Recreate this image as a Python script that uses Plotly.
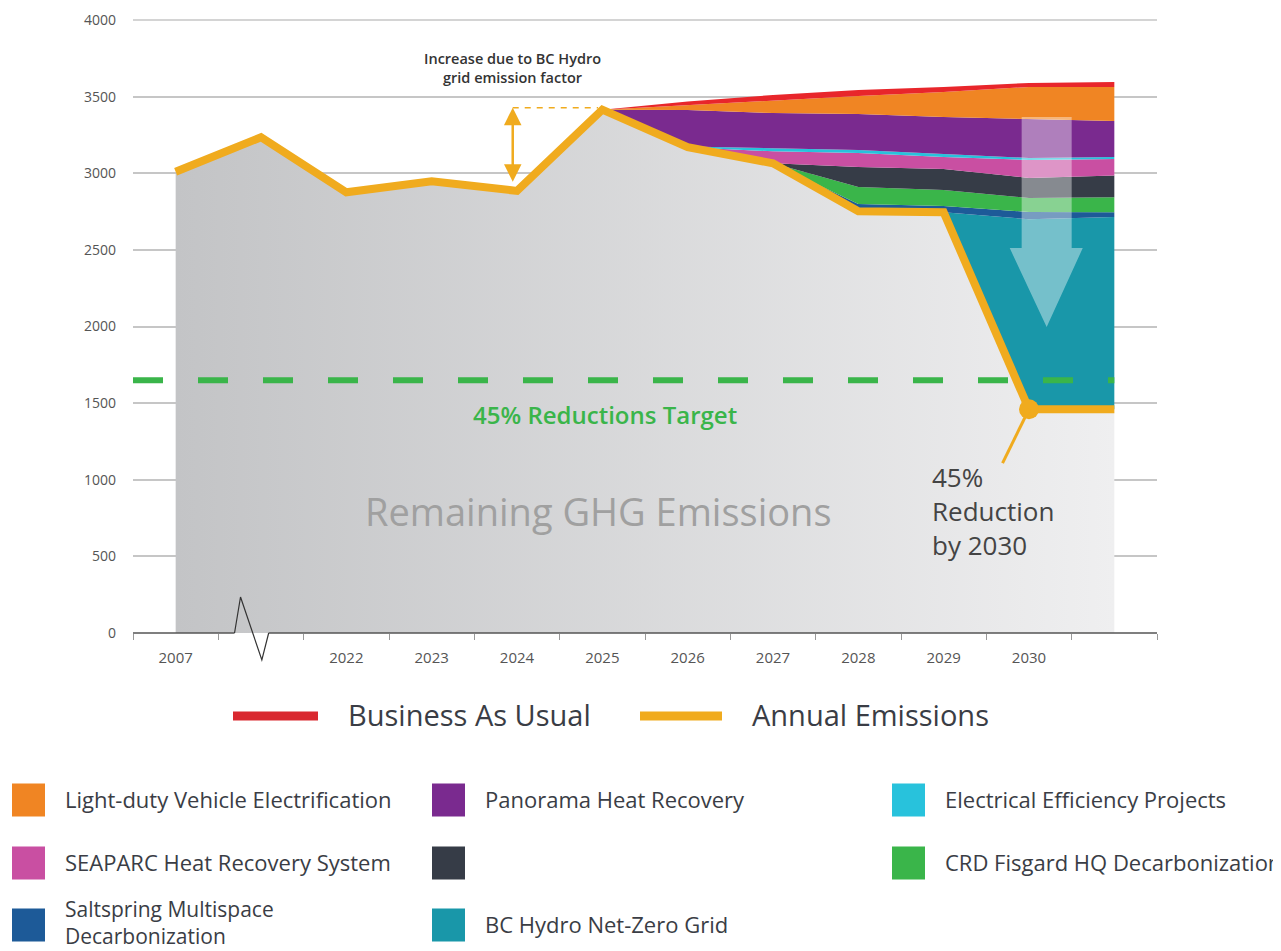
import plotly.graph_objects as go

# ---------------- data ----------------
categories = ["2007", "", "2022", "2023", "2024", "2025", "2026", "2027", "2028", "2029", "2030", ""]
annual_emissions = [3010, 3235, 2876, 2948, 2885, 3415, 3170, 3065, 2752, 2745, 1460, 1460]
target_value = 1650

# reductions stacked above the annual emissions, from 2025 onward (2025 .. end)
proj_start = 5
bc_hydro_grid = [0, 0, 0, 0, 0, 1240, 1255]
saltspring = [0, 0, 0, 47, 41, 47, 30]
crd_fisgard = [0, 0, 0, 111, 105, 91, 98]
unnamed_project = [0, 0, 0, 131, 137, 131, 143]
seaparc = [0, 0, 78, 91, 78, 118, 107]
electrical_eff = [0, 5, 20, 20, 20, 13, 13]
panorama = [0, 238, 230, 235, 241, 254, 235]
ldv_electrification = [0, 32, 85, 117, 163, 209, 222]
business_as_usual = [0, 23, 33, 39, 33, 26, 32]

y_ticks = [0, 500, 1000, 1500, 2000, 2500, 3000, 3500, 4000]

# ---------------- styles ----------------
YELLOW = "#f0ab1e"
RED = "#e8262b"
ORANGE = "#f08523"
PURPLE = "#7a2a8f"
CYAN = "#28c2dc"
MAGENTA = "#c94fa2"
DARK = "#363c47"
GREEN = "#3ab54a"
BLUE = "#1d5a98"
TEAL = "#1997a9"
TEXT = "#3a3d45"
GRID = "#c6c6c6"
FONT = "Open Sans"

layers = [
    ("BC Hydro Net-Zero Grid", bc_hydro_grid, TEAL),
    ("Saltspring Multispace Decarbonization", saltspring, BLUE),
    ("CRD Fisgard HQ Decarbonization", crd_fisgard, GREEN),
    (" ", unnamed_project, DARK),
    ("SEAPARC Heat Recovery System", seaparc, MAGENTA),
    ("Electrical Efficiency Projects", electrical_eff, CYAN),
    ("Panorama Heat Recovery", panorama, PURPLE),
    ("Light-duty Vehicle Electrification", ldv_electrification, ORANGE),
    ("Business As Usual", business_as_usual, RED),
]

x = list(range(len(categories)))
xp = x[proj_start:]

fig = go.Figure()

# remaining emissions (grey gradient area)
fig.add_trace(go.Scatter(
    x=x, y=annual_emissions, mode="lines", fill="tozeroy",
    line=dict(width=0, color="#d0d0d0"),
    fillgradient=dict(type="horizontal", colorscale=[[0, "#c3c4c6"], [1, "#efeff0"]]),
    showlegend=False, hoverinfo="skip"))

# stacked reductions
fig.add_trace(go.Scatter(
    x=xp, y=annual_emissions[proj_start:], stackgroup="red", mode="lines",
    line=dict(width=0), fillcolor="rgba(0,0,0,0)", showlegend=False, hoverinfo="skip"))
for name, vals, col in layers:
    fig.add_trace(go.Scatter(
        x=xp, y=vals, stackgroup="red", mode="lines", name=name,
        line=dict(width=0, color=col), fillcolor=col, showlegend=False))

# target line
fig.add_trace(go.Scatter(
    x=[-0.5, x[-1]], y=[target_value, target_value], mode="lines",
    line=dict(color=GREEN, width=6, dash="30px,35px"), showlegend=False, hoverinfo="skip"))

# annual emissions line
fig.add_trace(go.Scatter(
    x=x, y=annual_emissions, mode="lines", name="Annual Emissions",
    line=dict(color=YELLOW, width=8), showlegend=False))

# 2030 point marker
i2030 = categories.index("2030")
fig.add_trace(go.Scatter(
    x=[x[i2030]], y=[annual_emissions[i2030]], mode="markers",
    marker=dict(color=YELLOW, size=20), showlegend=False, hoverinfo="skip"))

shapes = []
annotations = []

# top gridline (range edge)
shapes.append(dict(type="line", xref="paper", yref="paper", layer="below",
                   x0=0, y0=1, x1=1, y1=1, line=dict(color=GRID, width=1.5)))

# big translucent down arrow
ax0, ax1, hx0, hx1, tipx = 9.914, 10.50, 9.774, 10.63, 10.207
ytop, yhead, ytip = 3367, 2512, 1997
shapes.append(dict(
    type="path", xref="x", yref="y", layer="above",
    path=f"M {ax0},{ytop} L {ax1},{ytop} L {ax1},{yhead} L {hx1},{yhead} L {tipx},{ytip} "
         f"L {hx0},{yhead} L {ax0},{yhead} Z",
    fillcolor="rgba(255,255,255,0.40)", line=dict(width=0)))

# callout line from 2030 point to text
shapes.append(dict(type="line", xref="x", yref="y", layer="above",
                   x0=x[i2030], y0=annual_emissions[i2030], x1=9.69, y1=1109,
                   line=dict(color=YELLOW, width=3)))

# dashed guide for BC Hydro increase
peak = annual_emissions[proj_start]
shapes.append(dict(type="line", xref="x", yref="y", layer="above",
                   x0=3.95, y0=peak + 13, x1=4.95, y1=peak + 13,
                   line=dict(color=YELLOW, width=1.5, dash="6px,6px")))
annotations.append(dict(
    x=3.95, y=peak + 13, ax=3.95, ay=2935, xref="x", yref="y", axref="x", ayref="y",
    text="", showarrow=True, arrowhead=2, startarrowhead=2, arrowside="end+start",
    arrowsize=1.4, startarrowsize=1.4, arrowwidth=2.5, arrowcolor=YELLOW))
annotations.append(dict(
    x=3.95, y=3690, xref="x", yref="y", showarrow=False,
    text="Increase due to BC Hydro<br>grid emission factor",
    font=dict(family=FONT, size=14.5, color="#333333", weight=600)))

# in-plot texts
annotations.append(dict(
    x=5.03, y=1423, xref="x", yref="y", showarrow=False, text="45% Reductions Target",
    font=dict(family=FONT, size=24, color=GREEN, weight=600)))
annotations.append(dict(
    x=4.95, y=796, xref="x", yref="y", showarrow=False, text="Remaining GHG Emissions",
    font=dict(family=FONT, size=38, color="#a0a0a0")))
annotations.append(dict(
    x=8.84, y=796, xref="x", yref="y", showarrow=False, xanchor="left", align="left",
    text="45%<br>Reduction<br>by 2030",
    font=dict(family=FONT, size=26, color="#444444")))

# axis line with break (paper coords derived from category slots)
n = len(categories)
def xpaper(idx):
    return (idx + 0.5) / n
def ypaper(v):
    return v / y_ticks[-1]

brk = [(0.69, 0), (0.76, 235), (1.01, -176), (1.09, 0)]
shapes.append(dict(type="line", xref="paper", yref="paper", layer="above",
                   x0=0, y0=0, x1=xpaper(brk[0][0]), y1=0, line=dict(color="#555555", width=1.5)))
shapes.append(dict(type="line", xref="paper", yref="paper", layer="above",
                   x0=xpaper(brk[-1][0]), y0=0, x1=1, y1=0, line=dict(color="#555555", width=1.5)))
shapes.append(dict(type="path", xref="paper", yref="paper", layer="above",
                   path="M " + " L ".join(f"{xpaper(a)},{ypaper(b)}" for a, b in brk),
                   line=dict(color="#333333", width=1.2)))

# ---------------- manual legend ----------------
# page has an 8px body margin; layout positions below are in page pixels
PAGE_OFF = 8
L, T, W, H = 133, 20, 1024, 613
def P(px, py):
    return ((px - L) / W, (T + H - py) / H)

def leg_line(x0, x1, y, col):
    a, b = P(x0, y)
    c, _ = P(x1, y)
    shapes.append(dict(type="line", xref="paper", yref="paper", x0=a, y0=b, x1=c, y1=b,
                       line=dict(color=col, width=9)))

def leg_text(px, py, txt, size):
    a, b = P(px, py)
    annotations.append(dict(x=a, y=b, xref="paper", yref="paper", xanchor="left", yanchor="middle",
                            align="left", showarrow=False, text=txt, borderpad=0,
                            font=dict(family=FONT, size=size, color=TEXT)))

leg_line(233, 318, 716, "#d9282f")
leg_text(347, 714, "Business As Usual", 29)
leg_line(640, 722, 716, YELLOW)
leg_text(751, 714, "Annual Emissions", 29)

grid = [
    (12, 800, ORANGE, "Light-duty Vehicle Electrification"),
    (432, 800, PURPLE, "Panorama Heat Recovery"),
    (892, 800, CYAN, "Electrical Efficiency Projects"),
    (12, 863, MAGENTA, "SEAPARC Heat Recovery System"),
    (432, 863, DARK, ""),
    (892, 863, GREEN, "CRD Fisgard HQ Decarbonization"),
    (12, 925, BLUE, "Saltspring Multispace<br>Decarbonization"),
    (432, 925, TEAL, "BC Hydro Net-Zero Grid"),
]
for sx, sy, col, txt in grid:
    a, b = P(sx, sy - 16.5)
    c, d = P(sx + 33, sy + 16.5)
    shapes.append(dict(type="rect", xref="paper", yref="paper", x0=a, y0=b, x1=c, y1=d,
                       fillcolor=col, line=dict(width=0)))
    if "<br>" in txt:
        leg_text(sx + 52, sy - 2, txt, 21)
    elif txt:
        leg_text(sx + 52, sy - 1, txt, 22)

FIG_W, FIG_H = 1281 - PAGE_OFF, 951 - PAGE_OFF
fig.update_layout(
    width=FIG_W, height=FIG_H, autosize=False,
    margin=dict(l=L - PAGE_OFF, r=FIG_W - (L - PAGE_OFF) - W, t=T - PAGE_OFF,
                b=FIG_H - (T - PAGE_OFF) - H, autoexpand=False),
    paper_bgcolor="white", plot_bgcolor="white",
    font=dict(family=FONT, color="#555555"),
    shapes=shapes, annotations=annotations,
    xaxis=dict(
        range=[-0.5, n - 0.5], tickmode="array", tickvals=x, ticktext=categories,
        showgrid=False, zeroline=False, showline=False, ticks="", automargin=False,
        tickfont=dict(family=FONT, size=15, color="#555555"), ticklabelstandoff=14,
        minor=dict(tickmode="array", tickvals=[i - 0.5 for i in range(n + 1)],
                   ticks="outside", ticklen=6, tickcolor="#999999", tickwidth=1),
    ),
    yaxis=dict(
        range=[0, y_ticks[-1]], tickmode="array", tickvals=y_ticks, automargin=False,
        showgrid=True, gridcolor=GRID, gridwidth=1.5, zeroline=False, showline=False,
        ticks="", tickfont=dict(family=FONT, size=14, color="#555555"), ticklabelstandoff=16,
    ),
    showlegend=False,
)

fig.write_html("out.html")
